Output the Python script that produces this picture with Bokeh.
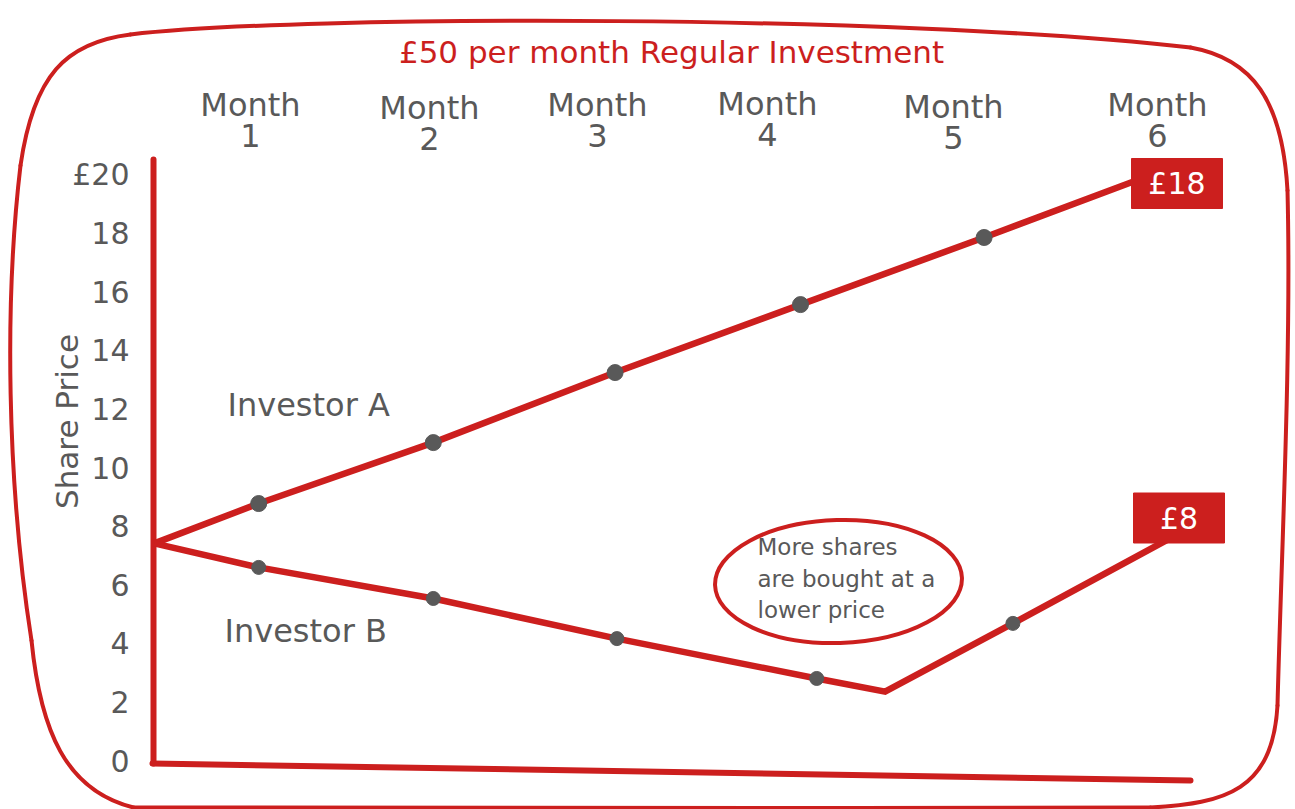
import numpy as np
from bokeh.plotting import figure
from bokeh.models import Range1d
from bokeh.core.properties import value
from bokeh.embed import file_html
from bokeh.resources import INLINE

# ---------------- data ----------------
TITLE = "£50 per month Regular Investment"
Y_LABEL = "Share Price"
MONTH_WORD = "Month"
MONTH_NUMS = ["1", "2", "3", "4", "5", "6"]
Y_TICKS = [0, 2, 4, 6, 8, 10, 12, 14, 16, 18, 20]
Y_TICK_LABELS = ["0", "2", "4", "6", "8", "10", "12", "14", "16", "18", "£20"]

# Investor A path (month, share price)
a_month = [0.41, 0.99, 1.96, 2.97, 4.00, 5.02, 5.88]
a_price = [7.41, 8.77, 10.85, 13.24, 15.56, 17.85, 19.83]
a_dot_month = [0.99, 1.96, 2.97, 4.00, 5.02]
a_dot_price = [8.77, 10.85, 13.24, 15.56, 17.85]

# Investor B path (month, share price)
b_month = [0.41, 0.99, 1.96, 2.98, 4.09, 4.47, 5.18, 6.04]
b_price = [7.41, 6.59, 5.53, 4.16, 2.80, 2.35, 4.68, 7.54]
b_dot_month = [0.99, 1.96, 2.98, 4.09, 5.18]
b_dot_price = [6.59, 5.53, 4.16, 2.80, 4.68]

series_names = ["Investor A", "Investor B"]
end_labels = ["£18", "£8"]
note_lines = ["More shares", "are bought at a", "lower price"]

# ---------------- layout / style ----------------
W, H = 1295, 809
PX_PER_MONTH, X0_PX = 180.0, 80.0
PX_PER_UNIT, Y0_PX = 29.3, 760.0

def mx(px):
    return (px - X0_PX) / PX_PER_MONTH

def vy(py):
    return (Y0_PX - py) / PX_PER_UNIT

RED = "#cc1f1e"
GRAY = "#595959"
FONT = value("DejaVu Sans")

p = figure(width=W, height=H, output_backend="svg", toolbar_location=None,
           x_range=Range1d(mx(0), mx(W)), y_range=Range1d(vy(H), vy(0)),
           x_axis_location=None, y_axis_location=None, min_border=0,
           outline_line_color=None, background_fill_color="white",
           border_fill_color="white")
p.grid.visible = False

# hand-drawn rounded frame (decoration) as cubic Bezier segments in pixels
# (x0, y0, cx0, cy0, cx1, cy1, x1, y1)
frame_segments = [
    (130, 34, 300, 14, 900, 14, 1190, 47),
    (1190, 47, 1252, 58, 1282, 100, 1287, 190),
    (1287, 190, 1291, 350, 1281, 550, 1277, 705),
    (1277, 705, 1272, 790, 1225, 803, 1150, 807),
    (1150, 807, 800, 808, 400, 808, 133, 807),
    (133, 807, 65, 790, 40, 730, 31, 640),
    (31, 640, 6, 480, 4, 300, 20, 165),
    (20, 165, 33, 75, 65, 42, 130, 34),
]
seg = np.array(frame_segments, dtype=float)
p.bezier(x0=[mx(v) for v in seg[:, 0]], y0=[vy(v) for v in seg[:, 1]],
         cx0=[mx(v) for v in seg[:, 2]], cy0=[vy(v) for v in seg[:, 3]],
         cx1=[mx(v) for v in seg[:, 4]], cy1=[vy(v) for v in seg[:, 5]],
         x1=[mx(v) for v in seg[:, 6]], y1=[vy(v) for v in seg[:, 7]],
         line_color=RED, line_width=4, line_cap="round")

# axes (hand-drawn)
p.line([mx(153), mx(153)], [vy(763), vy(159)], line_color=RED, line_width=6,
       line_cap="round")
p.line([mx(152), mx(1190)], [vy(763), vy(780)], line_color=RED, line_width=6,
       line_cap="round")

# series lines
p.line(a_month, a_price, line_color=RED, line_width=6.5, line_join="miter")
p.line(b_month, b_price, line_color=RED, line_width=6.5, line_join="miter")

# dots
p.scatter(a_dot_month, a_dot_price, size=16, fill_color=GRAY, line_color=GRAY)
p.scatter(b_dot_month, b_dot_price, size=14, fill_color=GRAY, line_color=GRAY)

# end value boxes
box_x = [mx(1176.5), mx(1178.5)]
box_y = [vy(183), vy(517.5)]
p.rect(box_x, box_y, width=91, height=50, width_units="screen",
       height_units="screen", fill_color=RED, line_color=RED)
p.text(box_x, box_y, text=end_labels, text_color="white", text_font=FONT,
       text_font_size="30px", text_align="center", text_baseline="middle")

# note ellipse and text
p.ellipse([mx(838)], [vy(581)], width=247, height=123, width_units="screen",
          height_units="screen", angle=0.03, fill_alpha=0, line_color=RED,
          line_width=4)
p.text([mx(757)] * 3, [vy(546), vy(578), vy(609)], text=note_lines,
       text_color=GRAY, text_font=FONT, text_font_size="23px",
       text_align="left", text_baseline="middle")

# series labels
p.text([mx(227), mx(224)], [vy(404), vy(630)], text=series_names,
       text_color=GRAY, text_font=FONT, text_font_size="32px",
       text_align="left", text_baseline="middle")

# y tick labels
p.text([mx(129)] * len(Y_TICKS), Y_TICKS, text=Y_TICK_LABELS, text_color=GRAY,
       text_font=FONT, text_font_size="30px", text_align="right",
       text_baseline="middle")

# y axis label
p.text([mx(66)], [vy(421)], text=[Y_LABEL], angle=np.pi / 2, text_color=GRAY,
       text_font=FONT, text_font_size="31px", text_align="center",
       text_baseline="middle")

# month labels (top)
month_px = [250, 429, 597, 767, 953, 1157]
month_jitter = [0, 3, 0, -1, 2, 0]
p.text([mx(x) for x in month_px], [vy(104 + j) for j in month_jitter],
       text=[MONTH_WORD] * 6, text_color=GRAY, text_font=FONT,
       text_font_size="32px", text_align="center", text_baseline="middle")
p.text([mx(x) for x in month_px], [vy(135 + j) for j in month_jitter],
       text=MONTH_NUMS, text_color=GRAY, text_font=FONT,
       text_font_size="32px", text_align="center", text_baseline="middle")

# title
p.text([mx(671)], [vy(51)], text=[TITLE], text_color=RED, text_font=FONT,
       text_font_size="31px", text_align="center", text_baseline="middle")

open("out.html", "w").write(file_html(p, INLINE))
